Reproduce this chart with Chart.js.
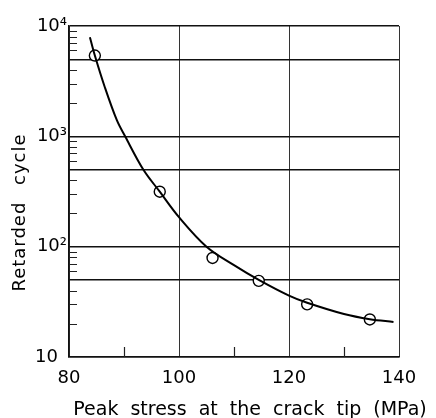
<!DOCTYPE html>
<html>
<head>
<meta charset="utf-8">
<script src="https://cdn.jsdelivr.net/npm/chart.js@4/dist/chart.umd.min.js"></script>
<style>
  html, body { margin: 0; padding: 0; background: #fff; }
  #wrap { width: 436px; height: 418px; }
</style>
</head>
<body>
<div id="wrap"><canvas id="chart" width="436" height="418"></canvas></div>
<script>
// measured points (circles)
const stressPts = [84.7, 96.5, 106.1, 114.5, 123.3, 134.7];
const cyclePts = [5400, 315, 79, 49, 30, 21.9];

// fitted curve
const curveX = [83.8, 84.7, 86.5, 88.7, 90.2, 93.5, 96.5, 100, 105, 110, 114.5, 120, 123.3, 130, 134.7, 139];
const curveY = [7900, 5400, 2800, 1400, 1000, 500, 315, 185, 100, 68, 50, 36, 31, 24.5, 22, 20.8];

// axes
const xTicks = [80, 90, 100, 110, 120, 130, 140];
const xTickText = ['80', '', '100', '', '120', '', '140'];
const xGridAt = [80, 100, 120, 140];
const xMinor = [90, 110, 130];

const yTicks = [10, 50, 100, 500, 1000, 5000, 10000];
const yTickText = ['10\u2002', '', '10²', '', '10³', '', '10⁴'];
const yMinorMult = [2, 3, 4, 6, 7, 8, 9];
const yDecades = [10, 100, 1000];

const xTitle = 'Peak stress at the crack tip (MPa)';
const yTitle = 'Retarded cycle';

const FONT = 'DejaVu Sans';

const minorTicks = {
  id: 'minorTicks',
  beforeDatasetsDraw(chart) {
    const ctx = chart.ctx;
    const xs = chart.scales.x, ys = chart.scales.y;
    const area = chart.chartArea;
    ctx.save();
    ctx.strokeStyle = '#222';
    ctx.lineWidth = 1.2;
    ctx.beginPath();
    yDecades.forEach(d => {
      yMinorMult.forEach(m => {
        const py = Math.round(ys.getPixelForValue(d * m)) + 0.5;
        ctx.moveTo(area.left, py);
        ctx.lineTo(area.left + 8, py);
      });
    });
    xMinor.forEach(v => {
      const px = Math.round(xs.getPixelForValue(v)) + 0.5;
      ctx.moveTo(px, area.bottom);
      ctx.lineTo(px, area.bottom - 10);
    });
    ctx.stroke();
    ctx.restore();
  }
};

// axis titles, set a little off centre like the original
const axisTitles = {
  id: 'axisTitles',
  afterDraw(chart) {
    const ctx = chart.ctx;
    const area = chart.chartArea;
    ctx.save();
    ctx.fillStyle = '#000';
    ctx.textAlign = 'center';
    ctx.textBaseline = 'alphabetic';
    ctx.font = '19px "' + FONT + '"';
    ctx.wordSpacing = '6px';
    ctx.fillText(xTitle, (area.left + area.right) / 2 + 16, area.bottom + 58);
    ctx.font = '18px "' + FONT + '"';
    ctx.letterSpacing = '1px';
    ctx.wordSpacing = '10px';
    ctx.translate(25, (area.top + area.bottom) / 2 + 21);
    ctx.rotate(-Math.PI / 2);
    ctx.fillText(yTitle, 0, 0);
    ctx.restore();
  }
};

const ctx = document.getElementById('chart').getContext('2d');
new Chart(ctx, {
  type: 'line',
  data: {
    datasets: [{
      data: curveX.map((x, i) => ({ x: x, y: curveY[i] })),
      borderColor: '#000',
      borderWidth: 2,
      pointRadius: 0,
      fill: false,
      tension: 0.35
    }, {
      data: stressPts.map((x, i) => ({ x: x, y: cyclePts[i] })),
      showLine: false,
      pointRadius: 5.5,
      pointBackgroundColor: '#fff',
      pointBorderColor: '#000',
      pointBorderWidth: 1.4
    }]
  },
  options: {
    responsive: false,
    animation: false,
    events: [],
    layout: { padding: { top: 26, right: 37, left: 0, bottom: 0 } },
    plugins: { legend: { display: false }, tooltip: { enabled: false } },
    scales: {
      x: {
        type: 'linear',
        min: 80, max: 140,
        afterBuildTicks: s => { s.ticks = xTicks.map(v => ({ value: v })); },
        afterFit: s => { s.height = 61; },
        border: { display: true, color: '#111', width: 1.5 },
        grid: {
          drawTicks: false,
          color: c => xGridAt.includes(c.tick.value) ? '#333' : 'rgba(0,0,0,0)',
          lineWidth: 1
        },
        ticks: {
          padding: 11,
          color: '#000',
          maxRotation: 0,
          autoSkip: false,
          font: { family: FONT, size: 18 },
          callback: v => xTickText[xTicks.indexOf(v)]
        }
      },
      y: {
        type: 'logarithmic',
        min: 10, max: 10000,
        afterBuildTicks: s => { s.ticks = yTicks.map(v => ({ value: v })); },
        afterFit: s => { s.width = 69; },
        border: { display: true, color: '#111', width: 1.5 },
        grid: {
          drawTicks: false,
          color: '#111',
          lineWidth: 1.4
        },
        ticks: {
          padding: 2,
          color: '#000',
          autoSkip: false,
          font: { family: FONT, size: 18 },
          callback: v => yTickText[yTicks.indexOf(v)]
        }
      }
    }
  },
  plugins: [minorTicks, axisTitles]
});
</script>
</body>
</html>
